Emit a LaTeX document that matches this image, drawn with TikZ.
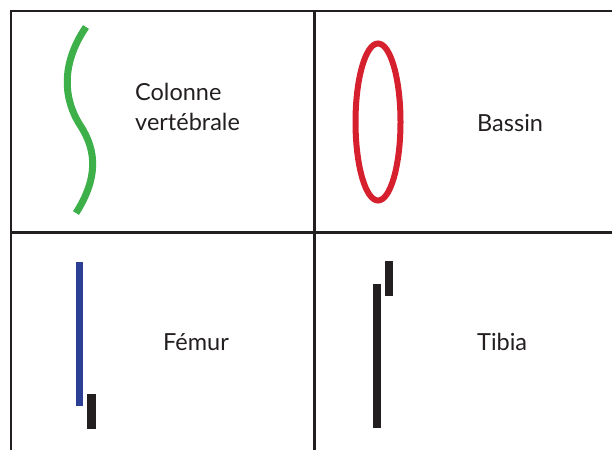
\documentclass[tikz,border=0pt]{standalone}
\usepackage{fontspec}
\setmainfont{Lato}
\definecolor{ink}{HTML}{231F20}
\definecolor{spine}{HTML}{3DB04A}
\definecolor{pelvis}{HTML}{D6202E}
\definecolor{femur}{HTML}{2B3F94}
\begin{document}
\begin{tikzpicture}[x=1pt,y=-1pt,
  grid/.style={draw=ink,line width=2.5pt},
  label/.style={text=ink,inner sep=0pt,font=\fontsize{23.5}{30}\selectfont},
  bone/.style={fill=ink}]
\useasboundingbox (0,0) rectangle (612,450);
% table rules
\draw[grid] (11,450) -- (11,11) -- (612,11);
\draw[grid] (314.5,11) -- (314.5,450);
\draw[grid] (11,232.7) -- (612,232.7);
% spine
\draw[spine,line width=7pt] (86,27) .. controls (60,65) and (64,100) .. (80,125)
  .. controls (98,152) and (97,180) .. (76,213);
\node[label,anchor=base west,align=left] (colonne) at (135,130) {Colonne\\vertébrale};
% pelvis
\draw[pelvis,line width=6pt] (378,122) ellipse [x radius=22.5,y radius=78.5];
\node[label,anchor=base west] (bassin) at (477,131.7) {Bassin};
% femur
\fill[femur] (76,262) rectangle (83.3,405.7);
\fill[bone] (87.3,394.3) rectangle (95.7,429);
\node[label,anchor=base west] (femurtxt) at (163,350.7) {Fémur};
% tibia
\fill[bone] (373.3,284) rectangle (381.3,428.3);
\fill[bone] (385,261) rectangle (393,296);
\node[label,anchor=base west] (tibia) at (477,350.7) {Tibia};
\end{tikzpicture}
\end{document}
